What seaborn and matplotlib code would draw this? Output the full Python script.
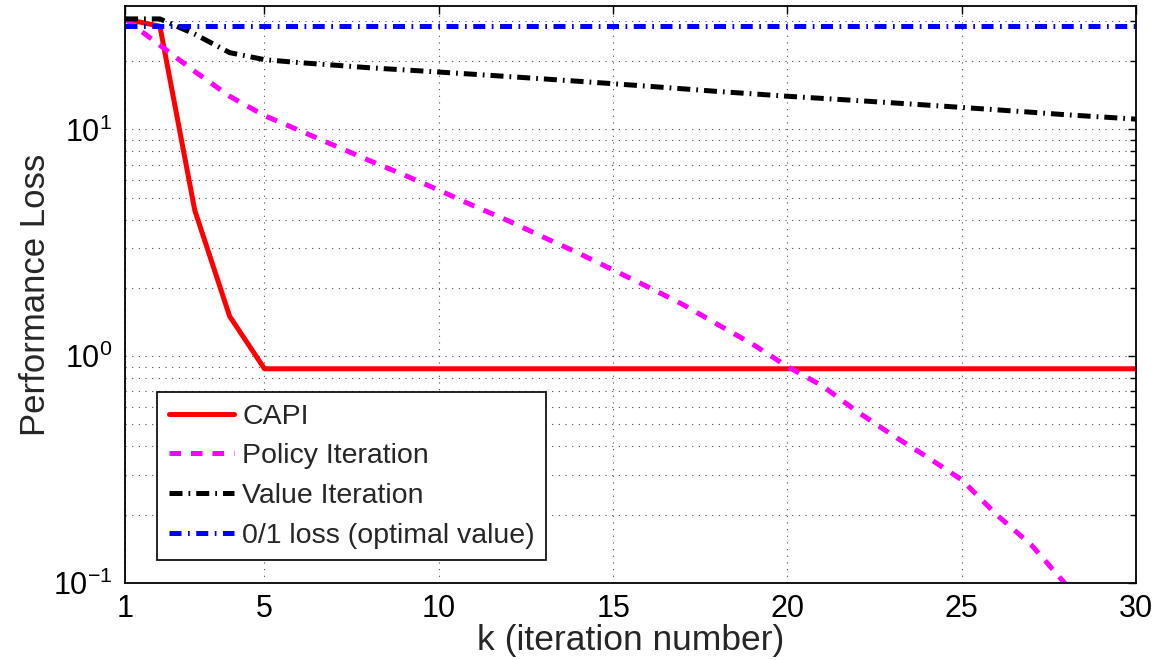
import numpy as np
import pandas as pd
import seaborn as sns
import matplotlib
matplotlib.use('Agg')
import matplotlib.pyplot as plt
from matplotlib.ticker import FixedLocator, LogLocator, NullFormatter

# iteration index
k_vals = list(range(1, 31))
k_policy = list(range(1, 29))  # policy iteration leaves the plot below 1e-1

capi = [30.7, 28.5, 4.4, 1.5, 0.88, 0.88, 0.88, 0.88, 0.88, 0.88,
        0.88, 0.88, 0.88, 0.88, 0.88, 0.88, 0.88, 0.88, 0.88, 0.88,
        0.88, 0.88, 0.88, 0.88, 0.88, 0.88, 0.88, 0.88, 0.88, 0.88]
policy_iter = [30.7, 23.5, 18.0, 14.0, 11.5, 9.9, 8.5, 7.3, 6.3, 5.4,
               4.6, 3.95, 3.35, 2.85, 2.4, 2.02, 1.69, 1.38, 1.13, 0.9,
               0.74, 0.57, 0.45, 0.36, 0.285, 0.2, 0.147, 0.098]
value_iter = [30.7, 30.7, 26.3, 21.8, 20.3, 19.7, 19.2, 18.7, 18.3, 17.9,
              17.5, 17.1, 16.7, 16.3, 15.9, 15.5, 15.1, 14.7, 14.35, 14.0,
              13.7, 13.4, 13.1, 12.8, 12.5, 12.2, 11.9, 11.6, 11.35, 11.1]
optimal = [28.7, 28.7, 28.7, 28.7, 28.7, 28.7, 28.7, 28.7, 28.7, 28.7,
           28.7, 28.7, 28.7, 28.7, 28.7, 28.7, 28.7, 28.7, 28.7, 28.7,
           28.7, 28.7, 28.7, 28.7, 28.7, 28.7, 28.7, 28.7, 28.7, 28.7]

labels = ['CAPI', 'Policy Iteration', 'Value Iteration', '0/1 loss (optimal value)']
x_ticks = [1, 5, 10, 15, 20, 25, 30]

sns.set_style('white')
plt.rcParams['font.family'] = ['Liberation Sans', 'DejaVu Sans']
plt.rcParams['mathtext.fontset'] = 'custom'
plt.rcParams['mathtext.rm'] = 'Liberation Sans'

fig, ax = plt.subplots(figsize=(11.61, 6.6), dpi=100)
fig.subplots_adjust(left=0.1077, right=0.9785, bottom=0.1167, top=0.9909)
ax.set_yscale('log')

series = [
    (k_vals, capi, '#ff0000', '-'),
    (k_policy, policy_iter, '#ff00ff', (0, (2.3, 2.0))),
    (k_vals, value_iter, '#000000', (0, (2.6, 1.2, 0.35, 1.2))),
    (k_vals, optimal, '#0000ff', (0, (2.4, 1.3, 0.35, 1.3))),
]
for (xs, ys, col, ls), lab in zip(series, labels):
    df = pd.DataFrame({'k': xs, 'loss': ys})
    sns.lineplot(data=df, x='k', y='loss', ax=ax, color=col, linestyle=ls,
                 linewidth=3.6, label=lab, dash_capstyle='butt')

ax.set_xlim(1, 30)
ax.set_ylim(0.1, 35)
ax.xaxis.set_major_locator(FixedLocator(x_ticks))
ax.set_xticklabels([str(t) for t in x_ticks])
ax.yaxis.set_minor_locator(LogLocator(base=10, subs=np.arange(2, 10)))
ax.yaxis.set_minor_formatter(NullFormatter())

ax.grid(True, which='major', axis='both', color='0.3', linestyle=(0, (1, 5)), linewidth=0.8)
ax.grid(True, which='minor', axis='y', color='0.3', linestyle=(0, (1, 5)), linewidth=0.8)
ax.set_axisbelow(True)

ax.tick_params(which='both', direction='in', top=True, right=True, colors='black')
ax.tick_params(which='major', length=6, width=1, labelsize=22)
ax.tick_params(axis='x', which='major', pad=8)
ax.tick_params(axis='y', which='major', pad=9)
ax.tick_params(which='minor', length=4, width=1)
for sp in ax.spines.values():
    sp.set_color('black')
    sp.set_linewidth(1.3)

ax.set_xlabel('k (iteration number)', fontsize=25.5, labelpad=0)
ax.set_ylabel('Performance Loss', fontsize=25, labelpad=1)

leg = ax.legend(loc='lower left', bbox_to_anchor=(0.032, 0.04), borderaxespad=0,
                fontsize=20.5, handlelength=2.3, handletextpad=0.28,
                labelspacing=0.48, borderpad=0.4, fancybox=False, framealpha=1)
leg.get_frame().set_edgecolor('black')
leg.get_frame().set_linewidth(1.2)

plt.savefig('out.png', dpi=100)
plt.close()
